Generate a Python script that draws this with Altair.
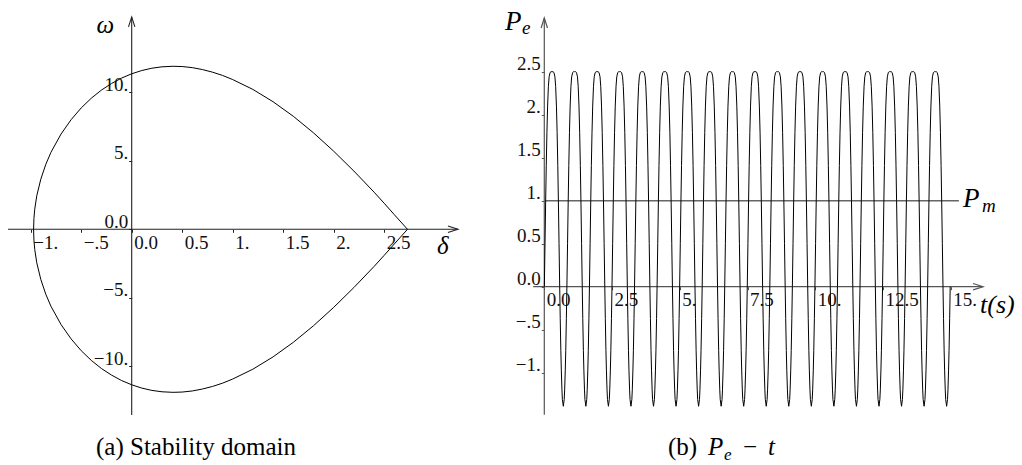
import altair as alt
import pandas as pd

SERIF = "Liberation Serif, Tinos, Times New Roman, DejaVu Serif, serif"

# ---------------- panel (a): boundary of the stability domain ----------------
# upper branch, left turning point -> saddle point
DELTA_UPPER = [-0.9715, -0.968, -0.96, -0.94, -0.9, -0.85, -0.8, -0.7, -0.6, -0.5,
               -0.4, -0.3, -0.2, -0.1, 0.0, 0.1, 0.2, 0.3, 0.41, 0.5, 0.6, 0.7,
               0.8, 0.9, 1.0, 1.2, 1.4, 1.6, 1.8, 2.0, 2.2, 2.4, 2.5, 2.6, 2.7307]
OMEGA_UPPER = [0.0, 0.79, 1.47, 2.44, 3.66, 4.75, 5.61, 6.95, 8.00, 8.86,
               9.57, 10.16, 10.64, 11.04, 11.35, 11.59, 11.76, 11.86, 11.90, 11.88, 11.80, 11.66,
               11.47, 11.23, 10.93, 10.21, 9.31, 8.25, 7.04, 5.70, 4.25, 2.71, 1.90, 1.07, 0.0]
# lower branch, saddle point -> left turning point
DELTA_LOWER = [2.7307, 2.6, 2.5, 2.4, 2.2, 2.0, 1.8, 1.6, 1.4, 1.2, 1.0, 0.9, 0.8,
               0.7, 0.6, 0.5, 0.41, 0.3, 0.2, 0.1, 0.0, -0.1, -0.2, -0.3, -0.4,
               -0.5, -0.6, -0.7, -0.8, -0.85, -0.9, -0.94, -0.96, -0.968, -0.9715]
OMEGA_LOWER = [0.0, -1.07, -1.90, -2.71, -4.25, -5.70, -7.04, -8.25, -9.31, -10.21, -10.93, -11.23, -11.47,
               -11.66, -11.80, -11.88, -11.90, -11.86, -11.76, -11.59, -11.35, -11.04, -10.64, -10.16, -9.57,
               -8.86, -8.00, -6.95, -5.61, -4.75, -3.66, -2.44, -1.47, -0.79, 0.0]

A_X_TICKS = [-1, -0.5, 0, 0.5, 1, 1.5, 2, 2.5]
A_X_LABELS = ["\u22121.", "\u2212.5", "0.0", "0.5", "1.", "1.5", "2.", "2.5"]
A_Y_TICKS = [-10, -5, 0, 5, 10]
A_Y_LABELS = ["\u221210.", "\u22125.", "0.0", "5.", "10."]

# ---------------- panel (b): electrical power P_e(t) ----------------
PEAK_TIMES = [0.285, 1.117, 1.949, 2.781, 3.613, 4.445, 5.277, 6.109, 6.941, 7.773,
              8.605, 9.437, 10.269, 11.101, 11.933, 12.765, 13.597, 14.429, 15.261]
# one swing seen from its maximum: time offset from the peak and the value there
SWING_DT = [0.0, 0.035, 0.0716, 0.107, 0.1336, 0.163, 0.1888, 0.2128, 0.2346, 0.259,
            0.2831, 0.3028, 0.3252, 0.3431, 0.366, 0.3823, 0.415]
SWING_PE = [2.50, 2.50, 2.49, 2.44, 2.33, 2.10, 1.79, 1.41, 1.00, 0.50,
            0.00, -0.37, -0.74, -0.97, -1.20, -1.31, -1.39]
T_END = 15.0
PM = 1.0

B_X_TICKS = [0, 2.5, 5, 7.5, 10, 12.5, 15]
B_X_LABELS = ["0.0", "2.5", "5.", "7.5", "10.", "12.5", "15."]
B_Y_TICKS = [-1, -0.5, 0, 0.5, 1, 1.5, 2, 2.5]
B_Y_LABELS = ["\u22121.", "\u2212.5", "0.0", "0.5", "1.", "1.5", "2.", "2.5"]

# ---------------- layout (pixels) ----------------
H = 465
W_A, W_B = 490, 532
A_X0, A_XS = 131.7, 101.0     # delta = 0 position, px per unit
A_Y0, A_YS = 229.3, 13.7      # omega = 0 position, px per unit
B_X0, B_XS = 54.3, 27.1       # t = 0 position, px per second
B_Y0, B_YS = 286.7, 86.0      # P = 0 position, px per unit
TICK_FONT = 19

ARROW_RIGHT = "M-1,-0.32L0,0L-1,0.32"
ARROW_UP = "M-0.32,1L0,0L0.32,1"


def label_expr(ticks, labels):
    expr = "''"
    for v, s in zip(reversed(ticks), reversed(labels)):
        expr = f"abs(datum.value - ({v})) < 1e-6 ? '{s}' : {expr}"
    return expr


def make_axes(x0, xs, y0, ys, width, xt, xl, yt, yl, color):
    common = dict(domain=False, grid=False, title=None, ticks=True, tickSize=3,
                  tickColor=color, tickWidth=1, labelFont=SERIF, labelFontSize=TICK_FONT,
                  labelColor="#111111", labelFlush=False, labelOverlap=False)
    ax = alt.Axis(values=xt, labelExpr=label_expr(xt, xl), orient="bottom",
                  offset=y0 - H, labelAlign="left", labelBaseline="top",
                  labelPadding=1, labelOffset=2, **common)
    ay = alt.Axis(values=yt, labelExpr=label_expr(yt, yl), orient="left",
                  offset=-x0, labelAlign="right", labelBaseline="alphabetic",
                  labelPadding=1, labelOffset=-2, **common)
    xdom = [-x0 / xs, (width - x0) / xs]
    ydom = [(y0 - H) / ys, y0 / ys]
    return ax, ay, xdom, ydom


def text_layer(df, size, style="italic", dx=0, dy=0, enc_x=None, enc_y=None):
    return alt.Chart(df).mark_text(
        font=SERIF, fontStyle=style, fontSize=size, align="left",
        baseline="alphabetic", color="black", dx=dx, dy=dy).encode(
        x=enc_x, y=enc_y, text="txt:N")


# ================= panel (a) =================
ax_a, ay_a, xdom_a, ydom_a = make_axes(A_X0, A_XS, A_Y0, A_YS, W_A,
                                       A_X_TICKS, A_X_LABELS, A_Y_TICKS, A_Y_LABELS, "#222222")
XA = lambda: alt.X("d:Q", scale=alt.Scale(domain=xdom_a, nice=False, zero=False), axis=ax_a)
YA = lambda: alt.Y("w:Q", scale=alt.Scale(domain=ydom_a, nice=False, zero=False), axis=ay_a)

curve_a = pd.DataFrame({
    "d": DELTA_UPPER + DELTA_LOWER,
    "w": OMEGA_UPPER + OMEGA_LOWER,
})
curve_a["i"] = range(len(curve_a))

axes_a = pd.DataFrame({"d": [-1.225, 0.0], "d2": [3.23, 0.0],
                       "w": [0.0, -13.55], "w2": [0.0, 15.5]})
heads_a = pd.DataFrame({"d": [3.23, 0.0], "w": [0.0, 15.5], "s": [ARROW_RIGHT, ARROW_UP]})
sym_a = pd.DataFrame({"d": [-0.26, 3.08], "w": [14.9, -1.25], "txt": ["\u03c9", "\u03b4"]})

layer_a = alt.layer(
    alt.Chart(axes_a).mark_rule(color="#222222", strokeWidth=1.1).encode(
        x=XA(), x2="d2:Q", y=YA(), y2="w2:Q"),
    alt.Chart(heads_a).mark_point(filled=False, color="#222222", strokeWidth=1.1, size=400, opacity=1).encode(
        x=XA(), y=YA(), shape=alt.Shape("s:N", scale=None)),
    alt.Chart(curve_a).mark_line(color="black", strokeWidth=1.0).encode(
        x=XA(), y=YA(), order="i:Q"),
    alt.Chart(sym_a).mark_text(font=SERIF, fontStyle="italic", fontSize=25, align="center",
                               baseline="middle", color="black").encode(
        x=XA(), y=YA(), text="txt:N"),
    alt.Chart(pd.DataFrame({"c": ["(a) Stability domain"]})).mark_text(
        font=SERIF, fontSize=25, align="center", baseline="alphabetic", color="black").encode(
        x=alt.value(196), y=alt.value(455), text="c:N"),
).properties(width=W_A, height=H)

# ================= panel (b) =================
ax_b, ay_b, xdom_b, ydom_b = make_axes(B_X0, B_XS, B_Y0, B_YS, W_B,
                                       B_X_TICKS, B_X_LABELS, B_Y_TICKS, B_Y_LABELS, "#555555")
XB = lambda: alt.X("t:Q", scale=alt.Scale(domain=xdom_b, nice=False, zero=False), axis=ax_b)
YB = lambda: alt.Y("p:Q", scale=alt.Scale(domain=ydom_b, nice=False, zero=False), axis=ay_b)

ts, ps = [], []
for pk in PEAK_TIMES:
    for dt, pe in zip(reversed(SWING_DT[1:]), reversed(SWING_PE[1:])):
        ts.append(pk - dt)
        ps.append(pe)
    for dt, pe in zip(SWING_DT[:-1], SWING_PE[:-1]):
        ts.append(pk + dt)
        ps.append(pe)
curve_b = pd.DataFrame({"t": ts, "p": ps})
curve_b = curve_b[(curve_b["t"] >= 0) & (curve_b["t"] <= T_END)].sort_values("t")

axes_b = pd.DataFrame({"t": [-0.41, 0.0], "t2": [16.19, 0.0],
                       "p": [0.0, -1.49], "p2": [0.0, 3.124]})
heads_b = pd.DataFrame({"t": [16.19, 0.0], "p": [0.0, 3.124], "s": [ARROW_RIGHT, ARROW_UP]})
pm_b = pd.DataFrame({"t": [0.0], "t2": [15.3], "p": [PM]})

pe_big = pd.DataFrame({"t": [-1.45], "p": [2.985], "txt": ["P"]})
pe_sub = pd.DataFrame({"t": [-1.45], "p": [2.985], "txt": ["e"]})
pm_big = pd.DataFrame({"t": [15.45], "p": [0.927], "txt": ["P"]})
pm_sub = pd.DataFrame({"t": [15.45], "p": [0.927], "txt": ["m"]})
ts_b = pd.DataFrame({"t": [16.08], "p": [-0.30], "txt": ["t(s)"]})

cap_parts = [
    ("(b)", 178, 455, 25, "normal"),
    ("P", 218, 455, 25, "italic"),
    ("e", 234, 460, 17, "italic"),
    ("\u2212", 253, 455, 25, "normal"),
    ("t", 278, 455, 25, "italic"),
]
cap_layers = [
    alt.Chart(pd.DataFrame({"c": [txt]})).mark_text(
        font=SERIF, fontSize=size, fontStyle=style, align="left",
        baseline="alphabetic", color="black").encode(
        x=alt.value(x), y=alt.value(y), text="c:N")
    for txt, x, y, size, style in cap_parts
]

layer_b = alt.layer(
    alt.Chart(axes_b).mark_rule(color="#555555", strokeWidth=1.2).encode(
        x=XB(), x2="t2:Q", y=YB(), y2="p2:Q"),
    alt.Chart(pm_b).mark_rule(color="#666666", strokeWidth=1.4).encode(
        x=XB(), x2="t2:Q", y=YB()),
    alt.Chart(heads_b).mark_point(filled=False, color="#555555", strokeWidth=1.2, size=400, opacity=1).encode(
        x=XB(), y=YB(), shape=alt.Shape("s:N", scale=None)),
    alt.Chart(curve_b).mark_line(color="black", strokeWidth=1.0).encode(x=XB(), y=YB()),
    text_layer(pe_big, 27, enc_x=XB(), enc_y=YB()),
    text_layer(pe_sub, 19, dx=17, dy=4, enc_x=XB(), enc_y=YB()),
    text_layer(pm_big, 27, enc_x=XB(), enc_y=YB()),
    text_layer(pm_sub, 19, dx=19, dy=5, enc_x=XB(), enc_y=YB()),
    text_layer(ts_b, 26, enc_x=XB(), enc_y=YB()),
    *cap_layers,
).properties(width=W_B, height=H)

chart = alt.hconcat(layer_a, layer_b, spacing=0).properties(
    padding=0, background="white").configure_view(strokeWidth=0, stroke="transparent")

chart.save("out.html", embed_options={"renderer": "svg", "actions": False})
